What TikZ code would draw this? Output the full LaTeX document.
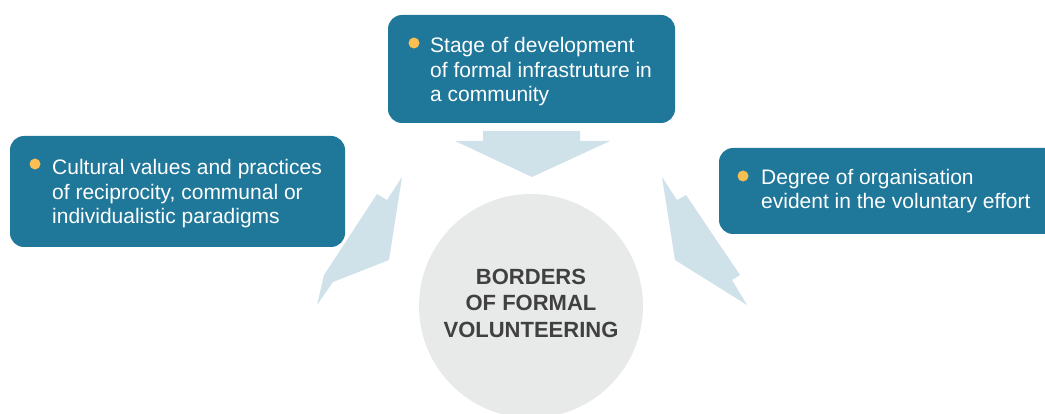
\documentclass[tikz,border=0pt]{standalone}
\usepackage{fontspec}
\setmainfont{Liberation Sans}
\usetikzlibrary{positioning}
\definecolor{boxblue}{RGB}{31,119,153}
\definecolor{arrowblue}{RGB}{207,225,233}
\definecolor{hubgray}{RGB}{232,233,233}
\definecolor{hubtext}{RGB}{64,64,64}
\definecolor{dotyellow}{RGB}{251,190,82}
\tikzset{
  factor/.style={fill=boxblue,rounded corners=14pt},
  factortext/.style={anchor=base west,align=left,text=white,inner sep=0pt,
    font=\fontsize{21}{24.5}\selectfont},
  bullet/.style={circle,fill=dotyellow,inner sep=0pt,minimum size=11pt},
  flow/.style={fill=arrowblue},
  hub/.style={circle,fill=hubgray,minimum size=224pt,inner sep=0pt},
  hubtitle/.style={align=center,text=hubtext,inner sep=0pt,
    font=\fontsize{22}{26.5}\selectfont\bfseries}
}

\begin{document}
\begin{tikzpicture}[x=1pt,y=-1pt]
  \useasboundingbox (0,0) rectangle (1045,414);
  \clip (0,0) rectangle (1045,414);

  % block arrows toward the centre
  \fill[flow] (483,131) -- (580,131) -- (580,141) -- (610,141) -- (532,177)
    -- (455,141) -- (483,141) -- cycle;
  \fill[flow] (402,177) -- (389,260) -- (333,282) -- (317,305) -- (324,275)
    -- (377,194) -- (387,200) -- cycle;
  \fill[flow] (662,177) -- (677,200) -- (686,195) -- (740,275) -- (732,280)
    -- (747,305) -- (675,260) -- cycle;

  % centre circle
  \node[hub] (hub) at (531,306) {};
  \node[hubtitle] (title) at (531,303) {BORDERS\\OF FORMAL\\VOLUNTEERING};

  % factor boxes (text placed on its last baseline)
  \fill[factor] (388,15) rectangle (675,123);
  \node[bullet] (devdot) at (414,43) {};
  \node[factortext] (dev) at (430,102)
    {Stage of development\\of formal infrastruture in\\a community};

  \fill[factor] (10,136) rectangle (345,247);
  \node[bullet] (culturedot) at (35,164) {};
  \node[factortext] (culture) at (52,224)
    {Cultural values and practices\\of reciprocity, communal or\\individualistic paradigms};

  \fill[factor] (719,148) rectangle (1070,234);
  \node[bullet] (orgdot) at (743,176) {};
  \node[factortext] (org) at (761,209)
    {Degree of organisation\\evident in the voluntary effort};
\end{tikzpicture}
\end{document}
